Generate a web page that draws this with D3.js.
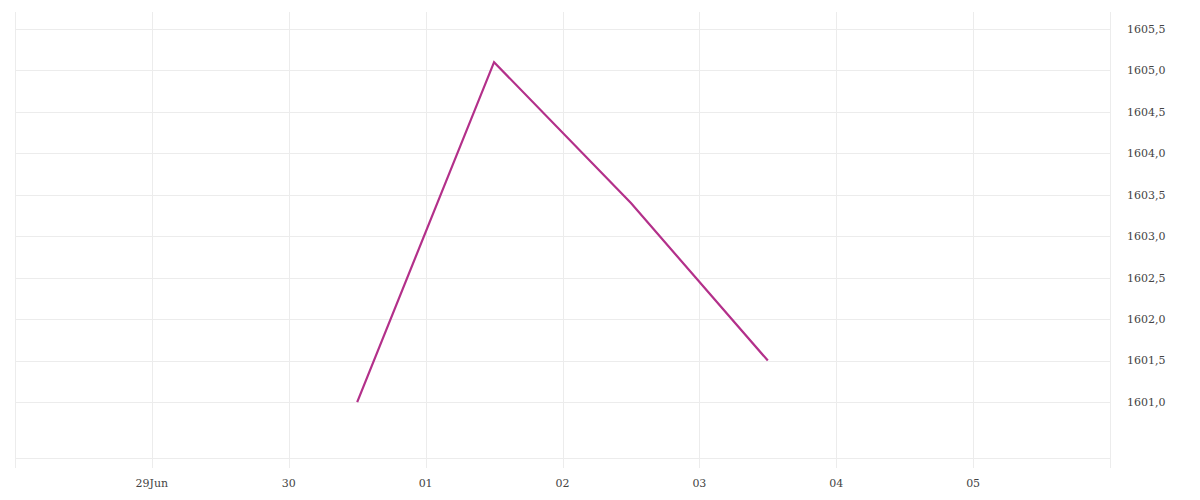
<!DOCTYPE html>
<html>
<head>
<meta charset="utf-8">
<script src="https://cdn.jsdelivr.net/npm/d3@7"></script>
<style>
html,body{margin:0;padding:0;background:#fff;}
svg text{font-family:"DejaVu Serif","Liberation Serif",serif;font-size:11px;fill:#444;}
</style>
</head>
<body>
<svg id="chart" width="1200" height="500"></svg>
<script>
const dates = ["2020-06-30T12:00","2020-07-01T12:00","2020-07-02T12:00","2020-07-03T12:00"];
const values = [1601.0, 1605.1, 1603.4, 1601.5];
const xTickDates = ["2020-06-29","2020-06-30","2020-07-01","2020-07-02","2020-07-03","2020-07-04","2020-07-05"];
const xTickLabels = ["29Jun","30","01","02","03","04","05"];
const yTicks = [1601.0,1601.5,1602.0,1602.5,1603.0,1603.5,1604.0,1604.5,1605.0,1605.5];
const yTickLabels = ["1601,0","1601,5","1602,0","1602,5","1603,0","1603,5","1604,0","1604,5","1605,0","1605,5"];

(function(){
const parse = d3.isoParse;
const svg = d3.select("#chart");
const pLeft = 15, pRight = 1110, pTop = 12, pBottom = 458;

const x = d3.scaleTime()
  .domain([parse("2020-06-28T00:00"), parse("2020-07-06T00:00")])
  .range([pLeft, pRight]);
const y = d3.scaleLinear()
  .domain([1600.325, 1605.705])
  .range([pBottom, pTop]);

const grid = svg.append("g").attr("stroke","#ececec").attr("stroke-width",1).attr("shape-rendering","crispEdges");
grid.selectAll("line.h").data(yTicks).join("line")
  .attr("x1", pLeft).attr("x2", pRight)
  .attr("y1", d => Math.round(y(d))+0.5).attr("y2", d => Math.round(y(d))+0.5);
grid.append("line").attr("x1", pLeft).attr("x2", pRight).attr("y1", pBottom+0.5).attr("y2", pBottom+0.5);
const vx = [x.domain()[0], ...xTickDates.map(parse), x.domain()[1]];
grid.selectAll("line.v").data(vx).join("line")
  .attr("x1", d => Math.round(x(d))+0.5).attr("x2", d => Math.round(x(d))+0.5)
  .attr("y1", pTop).attr("y2", pBottom+10);

svg.append("g").selectAll("text").data(xTickDates).join("text")
  .attr("x", d => x(parse(d)))
  .attr("y", 487)
  .attr("text-anchor","middle")
  .text((d,i) => xTickLabels[i]);

svg.append("g").selectAll("text").data(yTicks).join("text")
  .attr("x", pRight + 17)
  .attr("y", d => y(d))
  .attr("dy","0.35em")
  .attr("text-anchor","start")
  .text((d,i) => yTickLabels[i]);

const line = d3.line().x((d,i) => x(parse(dates[i]))).y(d => y(d));
svg.append("path").datum(values)
  .attr("fill","none").attr("stroke","#b3308a").attr("stroke-width",2.2)
  .attr("d", line);
})();
</script>
</body>
</html>
